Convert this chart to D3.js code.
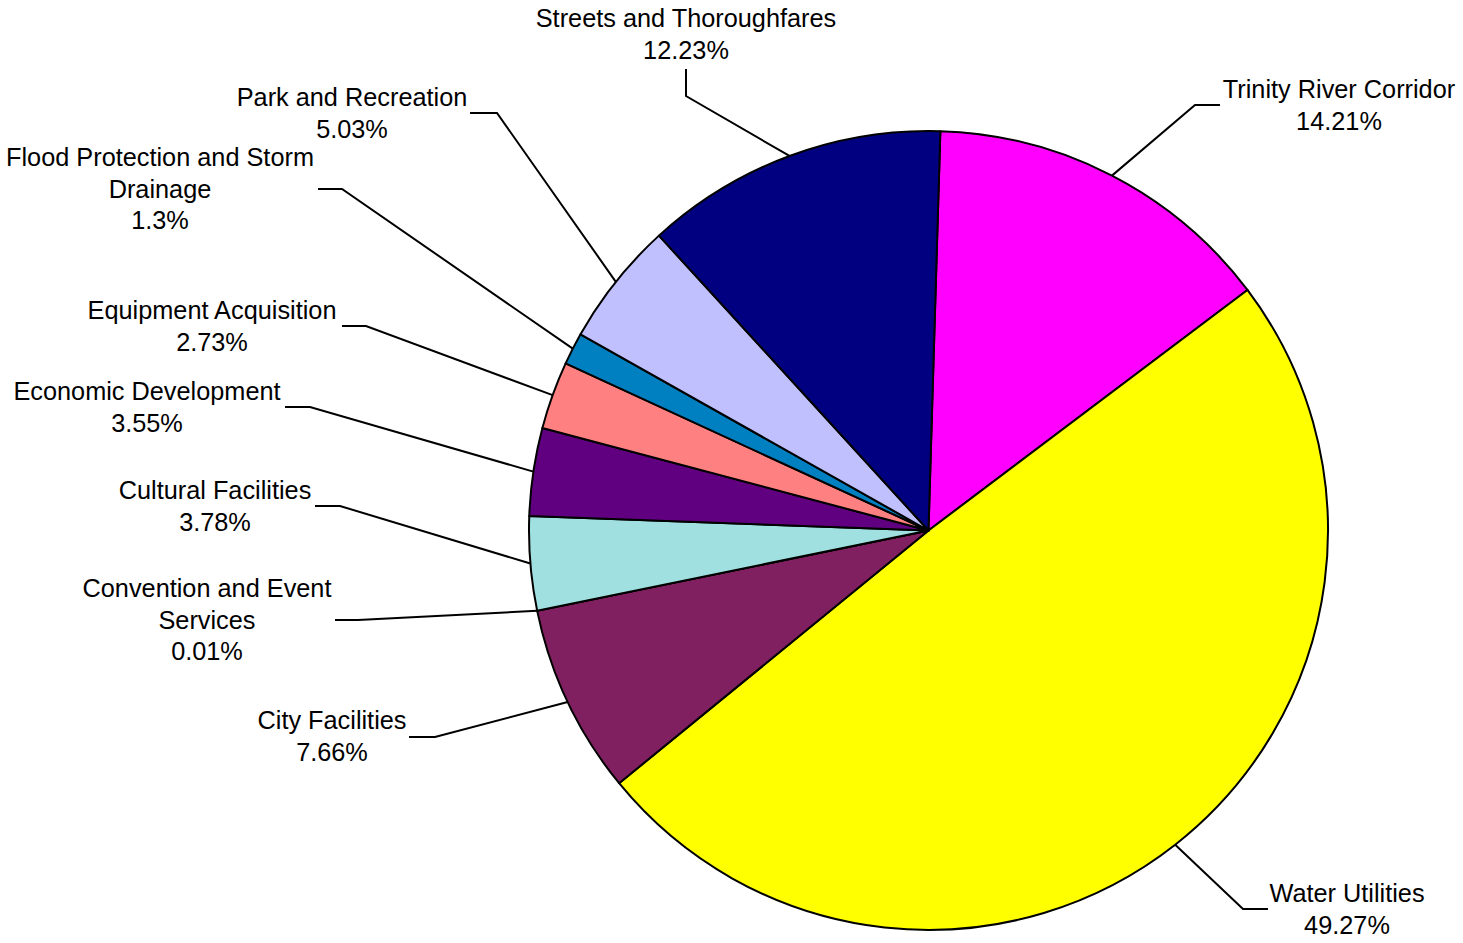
<!DOCTYPE html>
<html>
<head>
<meta charset="utf-8">
<script src="https://cdn.jsdelivr.net/npm/d3@7"></script>
<style>
  body { margin: 0; background: #fff; }
  svg text { font-family: "Liberation Sans", Arial, sans-serif; font-size: 25.3px; fill: #000; }
</style>
</head>
<body>
<svg></svg>
<script>
// data, clockwise from the top
var categories = ["Trinity River Corridor", "Water Utilities", "City Facilities",
  "Convention and Event Services", "Cultural Facilities", "Economic Development",
  "Equipment Acquisition", "Flood Protection and Storm Drainage", "Park and Recreation",
  "Streets and Thoroughfares"];
var values = [14.21, 49.27, 7.66, 0.01, 3.78, 3.55, 2.73, 1.3, 5.03, 12.23];
var colors = ["#ff00ff", "#ffff00", "#802060", "#a0e0e0", "#a0e0e0", "#600080",
  "#ff8080", "#0080c0", "#c0c0ff", "#000080"];

// label layout (text lines, center x, first baseline, leader stub)
var labelLines = [
  ["Trinity River Corridor"], ["Water Utilities"], ["City Facilities"],
  ["Convention and Event", "Services"], ["Cultural Facilities"], ["Economic Development"],
  ["Equipment Acquisition"], ["Flood Protection and Storm", "Drainage"], ["Park and Recreation"],
  ["Streets and Thoroughfares"]
];
var labelPos = [
  {x: 1339, y: 98, s: [[1220, 105], [1195, 105]]},
  {x: 1347, y: 902, s: [[1268, 909], [1243, 909]]},
  {x: 332, y: 729, s: [[409, 737], [435, 737]]},
  {x: 207, y: 597, s: [[335, 620], [358, 620]]},
  {x: 215, y: 499, s: [[315, 506], [340, 506]]},
  {x: 147, y: 400, s: [[285, 407], [310, 407]]},
  {x: 212, y: 319, s: [[342, 326], [366, 326]]},
  {x: 160, y: 166, s: [[318, 189], [342, 189]]},
  {x: 352, y: 106, s: [[470, 113], [497, 113]]},
  {x: 686, y: 27, s: [[686, 69], [686, 96]]}
];

var width = 1463, height = 943;
var cx = 928.5, cy = 530.5, radius = 399.5;
var lineH = 31.5;

var svg = d3.select("svg").attr("width", width).attr("height", height);
var g = svg.append("g").attr("transform", "translate(" + cx + "," + cy + ")");

var startA = 1.7 * Math.PI / 180;
var pie = d3.pie().sort(null).value(function (d) { return d; })
  .startAngle(startA).endAngle(startA + 2 * Math.PI);
var arcs = pie(values);
var arc = d3.arc().innerRadius(0).outerRadius(radius);

g.selectAll("path.slice")
  .data(arcs).enter()
  .append("path")
  .attr("class", "slice")
  .attr("d", arc)
  .attr("fill", function (d, i) { return colors[i]; })
  .attr("stroke", "#000")
  .attr("stroke-width", 2)
  .attr("stroke-linejoin", "round");

// leader lines
svg.selectAll("polyline.leader")
  .data(arcs).enter()
  .append("polyline")
  .attr("class", "leader")
  .attr("fill", "none")
  .attr("stroke", "#000")
  .attr("stroke-width", 2)
  .attr("points", function (d, i) {
    var a = (d.startAngle + d.endAngle) / 2;
    var px = cx + radius * Math.sin(a), py = cy - radius * Math.cos(a);
    var s = labelPos[i].s;
    return s[0].join(",") + " " + s[1].join(",") + " " + px + "," + py;
  });

// labels
var labels = svg.selectAll("text.lbl")
  .data(arcs).enter()
  .append("text")
  .attr("class", "lbl")
  .attr("text-anchor", "middle")
  .attr("x", function (d, i) { return labelPos[i].x; })
  .attr("y", function (d, i) { return labelPos[i].y; });

labels.each(function (d, i) {
  var t = d3.select(this);
  var lines = labelLines[i].concat([values[i] + "%"]);
  lines.forEach(function (ln, k) {
    t.append("tspan")
      .attr("x", labelPos[i].x)
      .attr("dy", k === 0 ? 0 : lineH)
      .text(ln);
  });
});
</script>
</body>
</html>
